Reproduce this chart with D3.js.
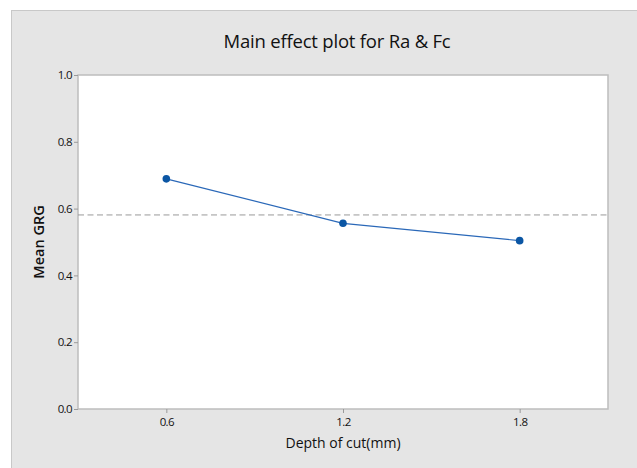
<!DOCTYPE html>
<html><head><meta charset="utf-8">
<script src="https://cdn.jsdelivr.net/npm/d3@7"></script>
<style>body{margin:0;background:#fff}svg{display:block}text{font-family:"Open Sans","Noto Sans",sans-serif;fill:#111}</style>
</head><body><svg id="c" width="637" height="468"></svg>
<script>
const categories = ["0.6", "1.2", "1.8"];
const meanGRG = [0.689, 0.556, 0.504];
const overallMean = 0.581;
const yTicks = [0.0, 0.2, 0.4, 0.6, 0.8, 1.0];

const svg = d3.select("#c");
const W = 637, H = 468;
const m = {l: 78, r: 608, t: 75, b: 409};

svg.append("rect").attr("x", 11.5).attr("y", 10.5).attr("width", W - 11).attr("height", H - 10)
  .attr("fill", "#e5e5e5").attr("stroke", "#c8c8c8");

const x = d3.scalePoint().domain(categories).range([m.l, m.r]).padding(0.5);
const y = d3.scaleLinear().domain([0, 1]).range([m.b, m.t]);

svg.append("rect").attr("x", m.l).attr("y", m.t).attr("width", m.r - m.l).attr("height", m.b - m.t)
  .attr("fill", "#fff").attr("stroke", "#bdbdbd").attr("stroke-width", 1.5);

const yAxis = svg.append("g").attr("transform", `translate(${m.l},0)`)
  .call(d3.axisLeft(y).tickValues(yTicks).tickFormat(d3.format(".1f")).tickSize(4).tickPadding(2));
const xAxis = svg.append("g").attr("transform", `translate(0,${m.b})`)
  .call(d3.axisBottom(x).tickSize(4).tickPadding(5));
[yAxis, xAxis].forEach(g => {
  g.select(".domain").remove();
  g.selectAll(".tick line").attr("stroke", "#9a9a9a");
  g.selectAll(".tick text").attr("font-size", 11.5).attr("fill", "#111").attr("font-weight", 500)
    .attr("font-family", "'Open Sans',sans-serif").style("letter-spacing", "-0.6px");
});

svg.append("line").attr("x1", m.l).attr("x2", m.r).attr("y1", y(overallMean)).attr("y2", y(overallMean))
  .attr("stroke", "#999").attr("stroke-dasharray", "6,3.5").attr("stroke-width", 1);

const pts = categories.map((c, i) => [x(c), y(meanGRG[i])]);
svg.append("path").attr("d", d3.line()(pts)).attr("fill", "none").attr("stroke", "#2a68b8").attr("stroke-width", 1.2);
svg.selectAll("circle.pt").data(pts).join("circle").attr("class", "pt")
  .attr("cx", d => d[0]).attr("cy", d => d[1]).attr("r", 3.8).attr("fill", "#0b56a4");

svg.append("text").attr("x", 337).attr("y", 48).attr("text-anchor", "middle").attr("font-size", 18.5)
  .attr("font-weight", 500).style("letter-spacing", "-0.2px").text("Main effect plot for Ra & Fc");
svg.append("text").attr("transform", `translate(44,${(m.t + m.b) / 2}) rotate(-90)`).attr("text-anchor", "middle")
  .attr("font-size", 14.5).attr("font-weight", 600).text("Mean GRG");
svg.append("text").attr("x", (m.l + m.r) / 2).attr("y", 448).attr("text-anchor", "middle")
  .attr("font-size", 14).attr("font-weight", 500).text("Depth of cut(mm)");
</script></body></html>
